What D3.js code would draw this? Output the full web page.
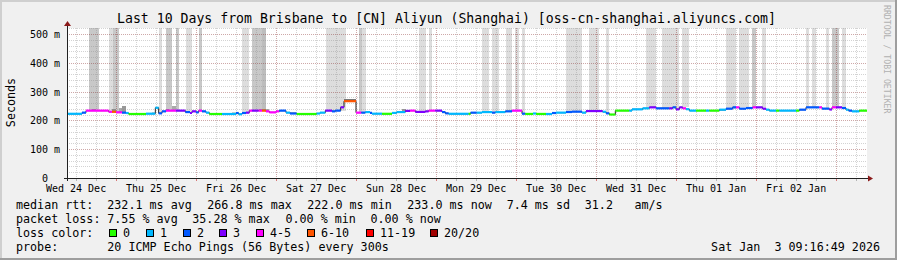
<!DOCTYPE html>
<html>
<head>
<meta charset="utf-8">
<script src="https://cdn.jsdelivr.net/npm/d3@7"></script>
<style>
  body { margin: 0; background: #f0f0f0; }
  text { font-family: "DejaVu Sans Mono", monospace; white-space: pre; }
</style>
</head>
<body>
<div id="chart"></div>
<script>
// time window (shown in Brisbane local time, kept as UTC to avoid tz shifts)
const startTime = Date.UTC(2025, 11, 24, 9, 16, 49);
const endTime = Date.UTC(2026, 0, 3, 9, 16, 49);

// median rtt steps: hours after start, value in ms, loss class
const medHours = [0.0, 4.5, 5.7, 12.5, 13.5, 14.7, 16.5, 17.7, 18.5, 23.7, 26.5, 27.5, 28.5, 29.7, 32.7, 35.5,
  36.9, 37.5, 38.7, 39.5, 40.5, 41.7, 42.7, 46.5, 50.7, 51.5, 52.5, 53.7, 54.7, 55.5, 57.5, 58.5, 59.7, 60.7,
  62.7, 63.7, 65.7, 66.9, 68.9, 74.9, 75.9, 77.5, 79.5, 80.5, 82.1, 83.1, 86.7, 88.3, 89.5, 90.9, 91.5, 94.5,
  97.5, 98.9, 101.5, 102.9, 104.5, 107.5, 108.5, 110.5, 112.5, 113.5, 114.5, 120.5, 121.1, 122.9, 124.5, 127.5,
  128.5, 131.5, 133.5, 136.5, 137.5, 139.8, 140.7, 143.7, 145.5, 146.7, 149.7, 151.5, 154.5, 155.7, 160.7, 161.7,
  162.7, 164.5, 168.7, 169.5, 172.7, 174.7, 176.7, 180.7, 181.7, 182.7, 183.7, 184.7, 185.7, 186.7, 188.7, 191.7,
  192.7, 195.7, 197.7, 199.7, 200.7, 201.7, 203.7, 205.7, 206.7, 208.7, 209.7, 210.7, 212.7, 213.7, 218.7, 219.7,
  221.7, 225.7, 226.5, 228.7, 229.5, 230.7, 232.5, 233.7, 234.5, 235.5, 237.7];
const medValues = [223, 227, 234, 230, 230, 228, 227, 225.7, 222.3, 223.4, 244, 224.6, 231.5, 234, 234, 229,
  225.7, 231.5, 228, 234, 231.5, 227, 222.3, 222.3, 225.7, 221.5, 225.7, 227, 234, 234, 234, 234, 231.5, 228,
  231.5, 234, 227, 224, 222.3, 224, 227, 234, 231.5, 234, 245.5, 266.8, 227, 227, 229, 226, 223.4, 223,
  226, 229, 233, 234, 229.5, 231.5, 234, 234, 229, 224.6, 223, 223, 226.9, 226.9, 229, 227,
  229, 231.5, 234, 223.4, 222.5, 224, 222.5, 222.3, 225.7, 227, 229.2, 230.4, 227, 232.5, 230, 224.6,
  220.5, 234, 234, 238.5, 242, 245.4, 242, 242, 245.4, 238.5, 245.4, 242, 239, 234, 234, 234,
  234, 237.3, 240.8, 245.4, 245.4, 240.8, 243, 245.4, 245.4, 240.8, 237.3, 234, 234, 234, 234, 237.3,
  245.4, 245.4, 241, 238, 245.4, 245.4, 243, 237.3, 234, 231.5, 234];
const medLoss = [1, 2, 4, 4, 5, 4, 2, 1, 0, 1, 1, 2, 2, 4, 3, 2,
  3, 3, 2, 4, 2, 1, 0, 1, 2, 1, 2, 3, 4, 3, 4, 5, 4, 4,
  4, 2, 1, 2, 0, 1, 1, 3, 2, 2, 3, 5, 4, 2, 1, 2, 1, 0,
  1, 1, 3, 4, 3, 3, 4, 3, 2, 2, 1, 0, 2, 1, 1, 2,
  1, 2, 4, 2, 0, 1, 0, 1, 2, 1, 2, 2, 1, 3, 1, 2,
  0, 0, 1, 1, 1, 3, 2, 3, 2, 3, 3, 4, 1, 1, 0, 1,
  0, 1, 2, 2, 4, 2, 2, 4, 3, 3, 1, 1, 0, 1, 0, 2,
  2, 4, 2, 3, 4, 3, 2, 1, 2, 1, 0];

// smoke: hours start / end, top of the ping spread in ms (600 = off the chart), shade level
const smokeStart = [6.6, 12.6, 13.8, 27.6, 29.6, 32.6, 35.6, 39.6, 52.5, 55.5, 58.5, 77.6, 87.6, 88.5, 105.6,
  108.6, 124.5, 127.5, 131.7, 134.5, 136.5, 149.7, 156.5, 161.7, 173.7, 178.5, 184.5, 197.7, 201.6, 205.6,
  208.6, 221.7, 223.5, 227.6, 229.6, 232.6,
  7.5, 13.5, 15.6, 16.5, 25.5, 29.7, 31.5, 49.5, 57.5, 59.7, 66.6, 83.1, 100.5, 136.2, 146.7, 195.6];
const smokeEnd = [9.6, 13.8, 15.6, 28.6, 31.6, 33.6, 37.6, 40.6, 54.6, 58.5, 59.7, 83.6, 88.5, 89.7, 107.6,
  109.6, 126.5, 129.5, 133.5, 135.5, 137.5, 154.5, 159.5, 162.7, 176.7, 183.5, 186.5, 200.7, 204.6, 206.6,
  209.6, 222.7, 224.7, 228.6, 231.6, 233.6,
  8.7, 14.7, 16.5, 17.7, 26.4, 30.6, 32.7, 50.7, 59.7, 60.6, 68.7, 86.7, 101.7, 137.7, 148.5, 197.7];
const smokeTop = [600, 600, 600, 600, 600, 600, 600, 600, 600, 600, 600, 600, 600, 600, 600,
  600, 600, 600, 600, 600, 600, 600, 600, 600, 600, 600, 600, 600, 600, 600,
  600, 600, 600, 600, 600, 600,
  238, 241, 244, 249, 229, 238, 250, 229, 240, 238, 229, 275, 241, 230, 230, 240];
const smokeLevel = [2, 0, 2, 0, 2, 2, 0, 2, 0, 2, 3, 0, 2, 0, 0,
  0, 0, 0, 0, 0, 0, 0, 0, 0, 0, 0, 0, 0, 0, 2,
  0, 0, 0, 0, 2, 0,
  6, 6, 4, 5, 1, 6, 4, 1, 6, 4, 4, 7, 5, 5, 1, 3];

const smokeGrays = ["#dddddd", "#cccccc", "#c8c8c8", "#bdbdbd", "#aaaaaa", "#999999", "#8c8c8c", "#777777"];

const lossLabels = ["0", "1", "2", "3", "4-5", "6-10", "11-19", "20/20"];
const lossColors = ["#26ff00", "#00b8ff", "#0059ff", "#7e00ff", "#ff00ff", "#ff5500", "#ff0000", "#a10000"];

const yTicks = [0, 100, 200, 300, 400, 500];

const rttLegend = ["232.1 ms avg", "266.8 ms max", "222.0 ms min", "233.0 ms now", "7.4 ms sd", "31.2", "am/s"];
const lossLegend = ["7.55 % avg", "35.28 % max", "0.00 % min", "0.00 % now"];

const W = 897, H = 260;
const plotLeft = 67, plotRight = 867, plotTop = 28, plotBottom = 178;

const svg = d3.select("#chart").append("svg").attr("width", W).attr("height", H);

// background with 3d frame
svg.append("rect").attr("width", W).attr("height", H).attr("fill", "#f0f0f0");
svg.append("path").attr("d", `M0,${H} V0 H${W}`).attr("fill", "none").attr("stroke", "#cfcfcf").attr("stroke-width", 4);
svg.append("path").attr("d", `M0,${H} H${W} V0`).attr("fill", "none").attr("stroke", "#9e9e9e").attr("stroke-width", 4);

svg.append("rect").attr("x", plotLeft).attr("y", plotTop).attr("width", plotRight - plotLeft).attr("height", plotBottom - plotTop).attr("fill", "#fff");

const toDate = h => new Date(startTime + h * 3600e3);

const x = d3.scaleUtc().domain([new Date(startTime), new Date(endTime)]).range([plotLeft, plotRight]);
const y = d3.scaleLinear().domain([0, 521]).range([plotBottom, plotTop]).clamp(true);

const medianAt = h => medValues[Math.max(0, d3.bisectRight(medHours, h) - 1)];

// smoke
svg.append("g").selectAll("rect")
  .data(smokeStart.map((s, i) => i))
  .enter().append("rect")
  .attr("x", i => Math.round(x(toDate(smokeStart[i]))))
  .attr("width", i => Math.max(1, Math.round(x(toDate(smokeEnd[i]))) - Math.round(x(toDate(smokeStart[i])))))
  .attr("y", i => Math.round(y(smokeTop[i])))
  .attr("height", i => Math.max(0, Math.round(y(medianAt(smokeStart[i] + 0.01))) - Math.round(y(smokeTop[i]))))
  .attr("fill", i => smokeGrays[smokeLevel[i]]);

// grid (rrdtool style dotted lines)
const gridColor = "rgba(140,140,140,0.38)", mgridColor = "rgba(130,30,30,0.39)";
const grid = svg.append("g").attr("shape-rendering", "crispEdges").attr("stroke-width", 1).attr("stroke-dasharray", "1,1");
const minorTimes = d3.utcHour.every(6).range(new Date(startTime), new Date(endTime)).filter(d => d.getUTCHours() !== 0);
const majorTimes = d3.utcDay.range(new Date(startTime), new Date(endTime));
grid.selectAll(".vmin").data(minorTimes).enter().append("line")
  .attr("x1", d => Math.round(x(d)) + 0.5).attr("x2", d => Math.round(x(d)) + 0.5)
  .attr("y1", plotTop).attr("y2", plotBottom).attr("stroke", gridColor);
const minorVals = d3.range(20, 521, 20).filter(v => v % 100 !== 0);
grid.selectAll(".hmin").data(minorVals).enter().append("line")
  .attr("y1", d => Math.round(y(d)) + 0.5).attr("y2", d => Math.round(y(d)) + 0.5)
  .attr("x1", plotLeft).attr("x2", plotRight).attr("stroke", gridColor);
grid.selectAll(".vmaj").data(majorTimes).enter().append("line")
  .attr("x1", d => Math.round(x(d)) + 0.5).attr("x2", d => Math.round(x(d)) + 0.5)
  .attr("y1", plotTop).attr("y2", plotBottom).attr("stroke", mgridColor);
grid.selectAll(".hmaj").data(yTicks.slice(1)).enter().append("line")
  .attr("y1", d => Math.round(y(d)) + 0.5).attr("y2", d => Math.round(y(d)) + 0.5)
  .attr("x1", plotLeft).attr("x2", plotRight).attr("stroke", mgridColor);

// median line: thin dark step line, colored by loss on top
const steps = medHours.map((h, i) => ({
  t0: toDate(h), t1: toDate(i + 1 < medHours.length ? medHours[i + 1] : 240), v: medValues[i], l: medLoss[i]
}));
const stepLine = d3.line().x(d => x(d[0])).y(d => y(d[1])).curve(d3.curveStepAfter);
svg.append("path")
  .datum(steps.map(d => [d.t0, d.v]).concat([[new Date(endTime), medValues[medValues.length - 1]]]))
  .attr("fill", "none").attr("stroke", "#202020").attr("stroke-width", 1)
  .attr("d", stepLine);
svg.append("g").selectAll("line").data(steps).enter().append("line")
  .attr("x1", d => x(d.t0)).attr("x2", d => x(d.t1))
  .attr("y1", d => y(d.v)).attr("y2", d => y(d.v))
  .attr("stroke", d => lossColors[d.l]).attr("stroke-width", 2.2);

// axes
const axis = svg.append("g").attr("shape-rendering", "crispEdges");
axis.append("line").attr("x1", plotLeft - 3).attr("x2", plotRight + 2).attr("y1", plotBottom + 0.5).attr("y2", plotBottom + 0.5).attr("stroke", "#202020");
axis.append("line").attr("x1", plotLeft + 0.5).attr("x2", plotLeft + 0.5).attr("y1", plotBottom + 3).attr("y2", plotTop - 3).attr("stroke", "#202020");
axis.selectAll(".tk").data(minorTimes.concat(majorTimes)).enter().append("line")
  .attr("x1", d => Math.round(x(d)) + 0.5).attr("x2", d => Math.round(x(d)) + 0.5)
  .attr("y1", plotBottom + 1).attr("y2", plotBottom + 3)
  .attr("stroke", d => d.getUTCHours() === 0 ? "rgba(200,40,40,0.6)" : "rgba(140,140,140,0.6)");
svg.append("path").attr("d", `M${plotLeft - 3},${plotTop - 2} L${plotLeft + 0.5},${plotTop - 7} L${plotLeft + 4},${plotTop - 2} Z`).attr("fill", "#8b1a1a");
svg.append("path").attr("d", `M${plotRight + 1},${plotBottom - 2.5} L${plotRight + 6},${plotBottom + 0.5} L${plotRight + 1},${plotBottom + 3.5} Z`).attr("fill", "#8b1a1a");

// y labels
svg.append("g").selectAll("text").data(yTicks).enter().append("text")
  .attr("x", 60).attr("y", d => y(d) + 4)
  .attr("text-anchor", "end").attr("font-size", 10)
  .text(d => d === 0 ? "0  " : d + " m");

// x labels at noon
const fmt = d3.utcFormat("%a %d %b");
const noonTimes = d3.utcDay.range(d3.utcDay.floor(new Date(startTime)), new Date(endTime))
  .map(d => d3.utcHour.offset(d, 12)).filter(d => d > startTime && d < endTime);
svg.append("g").selectAll("text").data(noonTimes).enter().append("text")
  .attr("x", d => x(d)).attr("y", 191.5)
  .attr("text-anchor", "middle").attr("font-size", 10)
  .text(d => fmt(d));

// title and unit
svg.append("text").attr("x", 446.5).attr("y", 23).attr("text-anchor", "middle").attr("font-size", 13.2)
  .text("Last 10 Days from Brisbane to [CN] Aliyun (Shanghai) [oss-cn-shanghai.aliyuncs.com]");
svg.append("text").attr("transform", "translate(15,102.5) rotate(-90)").attr("text-anchor", "middle").attr("font-size", 11.7)
  .text("Seconds");
svg.append("text").attr("transform", "translate(884,5) rotate(90)").attr("font-size", 8.2).attr("fill", "#b0b0b0")
  .text("RRDTOOL / TOBI OETIKER");

// legend
const lg = svg.append("g").attr("font-size", 11.7);
const rows = [208.5, 222.7, 236.9, 251.1];
lg.append("text").attr("x", 16).attr("y", rows[0]).text("median rtt:");
[107.3, 207.3, 307.3, 407.3, 506.7, 584.8, 634.5].forEach((px, i) =>
  lg.append("text").attr("x", px).attr("y", rows[0]).text(rttLegend[i]));
lg.append("text").attr("x", 16).attr("y", rows[1]).text("packet loss:");
[107.3, 192.3, 285.5, 370.5].forEach((px, i) =>
  lg.append("text").attr("x", px).attr("y", rows[1]).text(lossLegend[i]));
lg.append("text").attr("x", 16).attr("y", rows[2]).text("loss color:");
const boxX = [108.7, 145.7, 182.7, 219.3, 256.3, 307, 365.7, 430];
boxX.forEach((bx, i) => {
  lg.append("rect").attr("x", Math.round(bx) + 0.5).attr("y", 229.5).attr("width", 7).attr("height", 7)
    .attr("fill", lossColors[i]).attr("stroke", "#000").attr("stroke-width", 1);
  lg.append("text").attr("x", Math.round(bx) + 14).attr("y", rows[2]).text(lossLabels[i]);
});
lg.append("text").attr("x", 16).attr("y", rows[3]).text("probe:");
lg.append("text").attr("x", 107.3).attr("y", rows[3]).text("20 ICMP Echo Pings (56 Bytes) every 300s");
lg.append("text").attr("x", 880).attr("y", rows[3]).attr("text-anchor", "end").text("Sat Jan  3 09:16:49 2026");
</script>
</body>
</html>
